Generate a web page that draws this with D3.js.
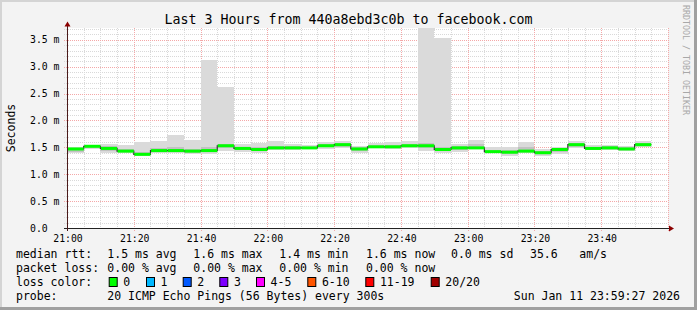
<!DOCTYPE html>
<html>
<head>
<meta charset="utf-8">
<script src="https://cdn.jsdelivr.net/npm/d3@7"></script>
<style>
  body { margin: 0; background: #f3f3f3; }
  text { font-family: "DejaVu Sans Mono", monospace; fill: #000; }
</style>
</head>
<body>
<svg id="visu" width="697" height="310"></svg>
<script>
// step start times (5 min steps)
var steps = ["21:00","21:05","21:10","21:15","21:20","21:25","21:30","21:35","21:40","21:45",
  "21:50","21:55","22:00","22:05","22:10","22:15","22:20","22:25","22:30","22:35",
  "22:40","22:45","22:50","22:55","23:00","23:05","23:10","23:15","23:20","23:25",
  "23:30","23:35","23:40","23:45","23:50"];

// ms values
var median = [1.47,1.52,1.48,1.43,1.37,1.44,1.44,1.43,1.44,1.53,1.48,1.46,1.49,1.49,1.49,1.53,1.55,1.47,1.51,1.51,
  1.53,1.53,1.46,1.49,1.49,1.42,1.41,1.43,1.40,1.46,1.55,1.48,1.49,1.47,1.55];
var rttMin = [1.39,1.47,1.40,1.40,1.34,1.40,1.39,1.38,1.38,1.44,1.42,1.40,1.45,1.45,1.47,1.47,1.48,1.39,1.48,1.47,
  1.48,1.44,1.39,1.42,1.48,1.39,1.34,1.39,1.33,1.38,1.48,1.45,1.45,1.44,1.50];
var rttMax = [1.51,1.54,1.56,1.55,1.60,1.62,1.73,1.64,3.12,2.62,1.57,1.58,1.61,1.57,1.54,1.60,1.62,1.53,1.58,1.60,
  1.61,3.72,3.53,1.56,1.64,1.50,1.51,1.60,1.47,1.51,1.61,1.55,1.55,1.53,1.62];
var innerLo = [1.42,1.49,1.44,1.41,1.35,1.42,1.41,1.40,1.41,1.48,1.45,1.43,1.47,1.47,1.48,1.50,1.51,1.44,1.49,1.49,
  1.50,1.49,1.43,1.46,1.48,1.40,1.38,1.41,1.37,1.42,1.51,1.46,1.47,1.45,1.52];
var innerHi = [1.49,1.53,1.52,1.47,1.42,1.48,1.50,1.47,1.50,1.56,1.51,1.50,1.53,1.52,1.51,1.56,1.58,1.50,1.54,1.55,
  1.57,1.58,1.50,1.53,1.56,1.45,1.46,1.50,1.43,1.48,1.58,1.51,1.52,1.50,1.58];

var lossLabels = ["0","1","2","3","4-5","6-10","11-19","20/20"];
var lossColors = ["#00ff00","#00b8ff","#0059ff","#7e00ff","#ff00ff","#ff5500","#ff0000","#a10000"];

var rttStats = ["1.5 ms avg","1.6 ms max","1.4 ms min","1.6 ms now","0.0 ms sd","35.6","am/s"];
var lossStats = ["0.00 % avg","0.00 % max","0.00 % min","0.00 % now"];

var vis = d3.select("#visu"),
    WIDTH = 697,
    HEIGHT = 310,
    MARGINS = { top: 28, right: 668, bottom: 228, left: 67 };

var parseT = function(s) {
  var p = s.split(":");
  return new Date(2026, 0, 11, +p[0], +p[1]);
};
var t0 = new Date(2026, 0, 11, 21, 0), t1 = new Date(2026, 0, 12, 0, 0);

var xScale = d3.scaleTime().domain([t0, t1]).range([MARGINS.left, MARGINS.right]),
    yScale = d3.scaleLinear().domain([0, 3.72]).range([MARGINS.bottom, MARGINS.top]);

var data = steps.map(function(s, i) {
  var a = parseT(s);
  return { t: a, t2: d3.timeMinute.offset(a, 5), med: median[i], min: rttMin[i], max: rttMax[i], lo: innerLo[i], hi: innerHi[i] };
});

// frame
vis.append("rect").attr("width", WIDTH).attr("height", HEIGHT).attr("fill", "#f3f3f3");
vis.append("path").attr("d", "M1,310 V1 H697").attr("stroke", "#d4d4d4").attr("stroke-width", 2).attr("fill", "none");
vis.append("path").attr("d", "M0,308.5 H695.5 V0").attr("stroke", "#a0a0a0").attr("stroke-width", 3).attr("fill", "none");

// canvas
vis.append("rect")
  .attr("x", MARGINS.left).attr("y", MARGINS.top)
  .attr("width", MARGINS.right - MARGINS.left).attr("height", MARGINS.bottom - MARGINS.top)
  .attr("fill", "#ffffff");

// grid
var g = vis.append("g").attr("shape-rendering", "crispEdges");
yScale.ticks(40).forEach(function(v) {
  if (Math.abs(v * 2 - Math.round(v * 2)) < 1e-6) return;
  g.append("line").attr("x1", 64).attr("x2", MARGINS.right)
    .attr("y1", Math.round(yScale(v)) + 0.5).attr("y2", Math.round(yScale(v)) + 0.5)
    .attr("stroke", "#d9d9d9").attr("stroke-dasharray", "1,1");
});
xScale.ticks(d3.timeMinute.every(5)).forEach(function(t) {
  if (t.getMinutes() % 20 === 0) return;
  var xx = Math.round(xScale(t)) + 0.5;
  g.append("line").attr("x1", xx).attr("x2", xx).attr("y1", MARGINS.top).attr("y2", 230)
    .attr("stroke", "#d9d9d9").attr("stroke-dasharray", "1,1");
});
yScale.ticks(8).forEach(function(v) {
  g.append("line").attr("x1", 64).attr("x2", MARGINS.right)
    .attr("y1", Math.round(yScale(v)) + 0.5).attr("y2", Math.round(yScale(v)) + 0.5)
    .attr("stroke", "#f4a8a8").attr("stroke-dasharray", "1,1");
});
xScale.ticks(d3.timeMinute.every(20)).forEach(function(t) {
  var xx = Math.round(xScale(t)) + 0.5;
  g.append("line").attr("x1", xx).attr("x2", xx).attr("y1", MARGINS.top).attr("y2", 231)
    .attr("stroke", "#f4a8a8").attr("stroke-dasharray", "1,1");
});

// smoke
var sm = vis.append("g").attr("shape-rendering", "crispEdges");
var band = function(lo, hi, col) {
  sm.selectAll(null).data(data).enter().append("rect")
    .attr("x", function(d) { return xScale(d.t); })
    .attr("width", function(d) { return xScale(d.t2) - xScale(d.t); })
    .attr("y", function(d) { return yScale(d[hi]); })
    .attr("height", function(d) { return yScale(d[lo]) - yScale(d[hi]); })
    .attr("fill", col);
};
band("min", "max", "#dadada");
band("lo", "hi", "#c2c2c2");

// median: dark step line + green loss bars
var stepLine = d3.line()
  .x(function(d) { return xScale(d.t); })
  .y(function(d) { return yScale(d.med); })
  .curve(d3.curveStepAfter);
var last = data[data.length - 1];
vis.append("path")
  .attr("d", stepLine(data.concat([{ t: last.t2, med: last.med }])))
  .attr("stroke", "#333").attr("stroke-width", 1.2).attr("fill", "none");
vis.append("g").selectAll("rect").data(data).enter().append("rect")
  .attr("x", function(d) { return xScale(d.t) + 0.6; })
  .attr("width", function(d) { return xScale(d.t2) - xScale(d.t) - 0.6; })
  .attr("y", function(d) { return yScale(d.med) - 1.5; })
  .attr("height", 3)
  .attr("fill", lossColors[0]);

// axes
vis.append("line").attr("x1", 64).attr("x2", 670).attr("y1", 228.5).attr("y2", 228.5)
  .attr("stroke", "#222");
vis.append("line").attr("x1", 67.5).attr("x2", 67.5).attr("y1", 231).attr("y2", 25)
  .attr("stroke", "#4a1a1a");
vis.append("path").attr("d", "M64.5,26.5 L67.5,21.5 L70.5,26.5 Z").attr("fill", "#8b0000");
vis.append("path").attr("d", "M669,225.5 L674,228.5 L669,231.5 Z").attr("fill", "#8b0000");

// tick labels
vis.append("g").selectAll("text").data(yScale.ticks(8)).enter().append("text")
  .attr("x", 30).attr("y", function(d) { return yScale(d) + 3.5; })
  .attr("font-size", "9.8px")
  .text(function(d) { return d === 0 ? "0.0" : d3.format(".1f")(d) + " m"; });
vis.append("g").selectAll("text").data(xScale.ticks(d3.timeMinute.every(20)).filter(function(t) { return t < t1; }))
  .enter().append("text")
  .attr("x", function(d) { return xScale(d) + 1; }).attr("y", 241.5)
  .attr("text-anchor", "middle").attr("font-size", "9.8px")
  .text(d3.timeFormat("%H:%M"));

// titles
vis.append("text").attr("x", 348.5).attr("y", 23.5).attr("text-anchor", "middle")
  .attr("font-size", "13.3px").text("Last 3 Hours from 440a8ebd3c0b to facebook.com");
vis.append("text").attr("transform", "translate(15,128) rotate(-90)").attr("text-anchor", "middle")
  .attr("font-size", "11.5px").text("Seconds");
vis.append("text").attr("transform", "translate(683,5) rotate(90)")
  .attr("font-size", "8.3px").style("fill", "#a8a8a8").text("RRDTOOL / TOBI OETIKER");

// legend
var fs = "11.5px";
var row = function(y, label) {
  vis.append("text").attr("x", 16).attr("y", y).attr("font-size", fs).text(label);
};
var rttX = [107.3, 193.3, 279.3, 366, 451, 530, 579.3];
row(258, "median rtt:");
rttStats.forEach(function(s, i) {
  vis.append("text").attr("x", rttX[i]).attr("y", 258).attr("font-size", fs).text(s);
});
row(272, "packet loss:");
lossStats.forEach(function(s, i) {
  vis.append("text").attr("x", rttX[i]).attr("y", 272).attr("font-size", fs).text(s);
});
row(285.5, "loss color:");
var boxX = [108.7, 146, 182.7, 219.3, 256, 307.3, 365.3, 430.7];
lossLabels.forEach(function(s, i) {
  vis.append("rect").attr("x", boxX[i] + 0.5).attr("y", 277.5).attr("width", 8).attr("height", 9)
    .attr("fill", lossColors[i]).attr("stroke", "#000");
  vis.append("text").attr("x", boxX[i] + 14.6).attr("y", 285.5).attr("font-size", fs).text(s);
});
row(299.5, "probe:");
vis.append("text").attr("x", 107.3).attr("y", 299.5).attr("font-size", fs)
  .text("20 ICMP Echo Pings (56 Bytes) every 300s");
vis.append("text").attr("x", 680).attr("y", 299.5).attr("text-anchor", "end").attr("font-size", fs)
  .text("Sun Jan 11 23:59:27 2026");
</script>
</body>
</html>
